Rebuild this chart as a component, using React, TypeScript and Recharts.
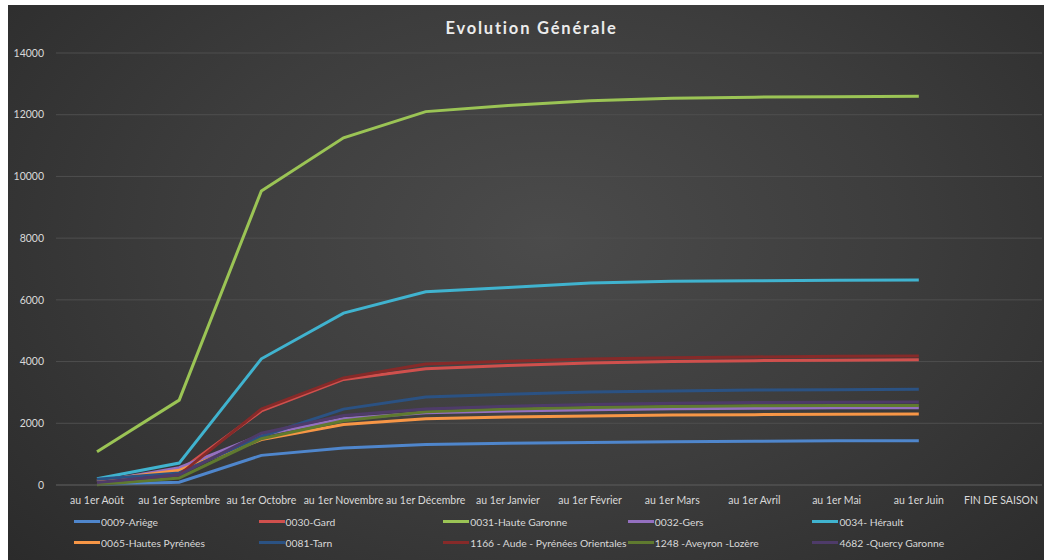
import React from 'react';
import { LineChart, Line, XAxis, YAxis, CartesianGrid, Legend } from 'recharts';

const categories = ['au 1er Août', 'au 1er Septembre', 'au 1er Octobre', 'au 1er Novembre', 'au 1er Décembre', 'au 1er Janvier', 'au 1er Février', 'au 1er Mars', 'au 1er Avril', 'au 1er Mai', 'au 1er Juin', 'FIN DE SAISON'];

const ariege = [20, 90, 960, 1200, 1310, 1350, 1380, 1400, 1420, 1430, 1435, null];
const gard = [150, 450, 2400, 3420, 3770, 3870, 3950, 4000, 4030, 4045, 4055, null];
const hauteGaronne = [1080, 2750, 9530, 11250, 12100, 12300, 12450, 12530, 12570, 12585, 12600, null];
const gers = [100, 560, 1620, 2150, 2340, 2400, 2440, 2470, 2490, 2500, 2505, null];
const herault = [200, 710, 4090, 5570, 6260, 6400, 6550, 6600, 6620, 6635, 6645, null];
const hautesPyrenees = [130, 480, 1470, 1960, 2150, 2200, 2240, 2265, 2280, 2290, 2300, null];
const tarn = [190, 390, 1580, 2460, 2850, 2940, 3010, 3050, 3075, 3090, 3100, null];
const aude = [60, 330, 2460, 3470, 3920, 4010, 4080, 4120, 4150, 4170, 4180, null];
const aveyron = [10, 230, 1500, 2080, 2370, 2460, 2510, 2545, 2565, 2575, 2580, null];
const quercy = [80, 330, 1680, 2250, 2460, 2550, 2610, 2650, 2670, 2685, 2690, null];

const yTicks = [0, 2000, 4000, 6000, 8000, 10000, 12000, 14000];

const series = [
  { key: 's1', name: '0009-Ariège', values: ariege, color: '#4f86cc' },
  { key: 's2', name: '0030-Gard', values: gard, color: '#d0504d' },
  { key: 's3', name: '0031-Haute Garonne', values: hauteGaronne, color: '#9bc455' },
  { key: 's4', name: '0032-Gers', values: gers, color: '#9470c0' },
  { key: 's5', name: '0034- Hérault', values: herault, color: '#40b3cf' },
  { key: 's6', name: '0065-Hautes Pyrénées', values: hautesPyrenees, color: '#f79646' },
  { key: 's7', name: '0081-Tarn', values: tarn, color: '#2b5283' },
  { key: 's8', name: '1166 - Aude - Pyrénées Orientales', values: aude, color: '#862a29' },
  { key: 's9', name: '1248 -Aveyron -Lozère', values: aveyron, color: '#5f7a2f' },
  { key: 's10', name: '4682 -Quercy Garonne', values: quercy, color: '#4e3b69' },
];

const data = categories.map((c, i) => {
  const row: any = { name: c };
  series.forEach((s) => {
    row[s.key] = s.values[i];
  });
  return row;
});

const FONT = 'Lato, "Noto Sans", sans-serif';

const LegendContent = () => (
  <div style={{ display: 'flex', flexWrap: 'wrap', width: 940, paddingLeft: 66, fontFamily: FONT, fontSize: 10.3, color: '#d9d9d9' }}>
    {series.map((s) => (
      <div key={s.key} style={{ width: 184.6, height: 21, display: 'flex', alignItems: 'center', whiteSpace: 'nowrap' }}>
        <span style={{ display: 'inline-block', width: 26, height: 3, background: s.color, marginRight: 1 }} />
        <span>{s.name}</span>
      </div>
    ))}
  </div>
);

export default function App() {
  return (
    <div
      style={{
        position: 'absolute',
        left: 8,
        top: 5,
        width: 1036,
        height: 555,
        overflow: 'hidden',
        background: 'radial-gradient(ellipse 75% 95% at 52% 42%, #4b4b4b 0%, #3d3d3d 45%, #282828 100%)',
      }}
    >
      <div
        style={{
          position: 'absolute',
          left: 0,
          width: 1047,
          top: 13,
          textAlign: 'center',
          fontFamily: FONT,
          fontWeight: 700,
          fontSize: 16.5,
          letterSpacing: 1.8,
          color: '#ececec',
        }}
      >
        Evolution Générale
      </div>
      <LineChart width={1036} height={555} data={data} margin={{ top: 48, right: 2, left: 0, bottom: 55 }}>
        <CartesianGrid vertical={false} stroke="#4e4e4e" strokeWidth={1} />
        <XAxis
          dataKey="name"
          interval={0}
          tickLine={false}
          axisLine={{ stroke: '#555555' }}
          tick={{ fill: '#d9d9d9', fontSize: 10.5, fontFamily: FONT }}
          tickMargin={6}
          height={20}
          padding={{ left: 41, right: 41 }}
        />
        <YAxis
          width={48}
          domain={[0, 14000]}
          ticks={yTicks}
          interval={0}
          tickLine={false}
          axisLine={false}
          tick={{ fill: '#d9d9d9', fontSize: 10.5, fontFamily: FONT }}
          tickMargin={6}
        />
        <Legend
          layout="horizontal"
          verticalAlign="middle"
          align="center"
          content={<LegendContent />}
          wrapperStyle={{ top: 506, left: 0, width: 1036 }}
        />
        {series.map((s) => (
          <Line
            key={s.key}
            dataKey={s.key}
            name={s.name}
            type="linear"
            stroke={s.color}
            strokeWidth={3}
            dot={false}
            activeDot={false}
            isAnimationActive={false}
            connectNulls={false}
          />
        ))}
      </LineChart>
    </div>
  );
}
